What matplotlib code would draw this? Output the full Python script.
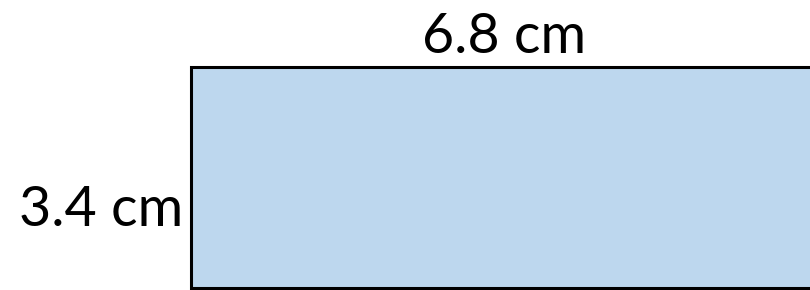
import matplotlib
matplotlib.use("Agg")
import matplotlib.pyplot as plt
from matplotlib.patches import Rectangle

# dimensions shown on the figure
width_label = "6.8 cm"
height_label = "3.4 cm"

fig = plt.figure(figsize=(8.1, 2.9), dpi=100)
ax = fig.add_axes([0, 0, 1, 1])
ax.set_xlim(0, 810)
ax.set_ylim(290, 0)
ax.axis('off')

# rectangle (runs off the right side of the picture)
rect = Rectangle((191, 67), 640, 221, facecolor='#bdd7ee', edgecolor='black', linewidth=2.2)
ax.add_patch(rect)

ax.text(504, 53, width_label, ha='center', va='baseline', fontsize=40, family='Lato')
ax.text(183, 226, height_label, ha='right', va='baseline', fontsize=40, family='Lato')

plt.savefig("out.png", dpi=100)
